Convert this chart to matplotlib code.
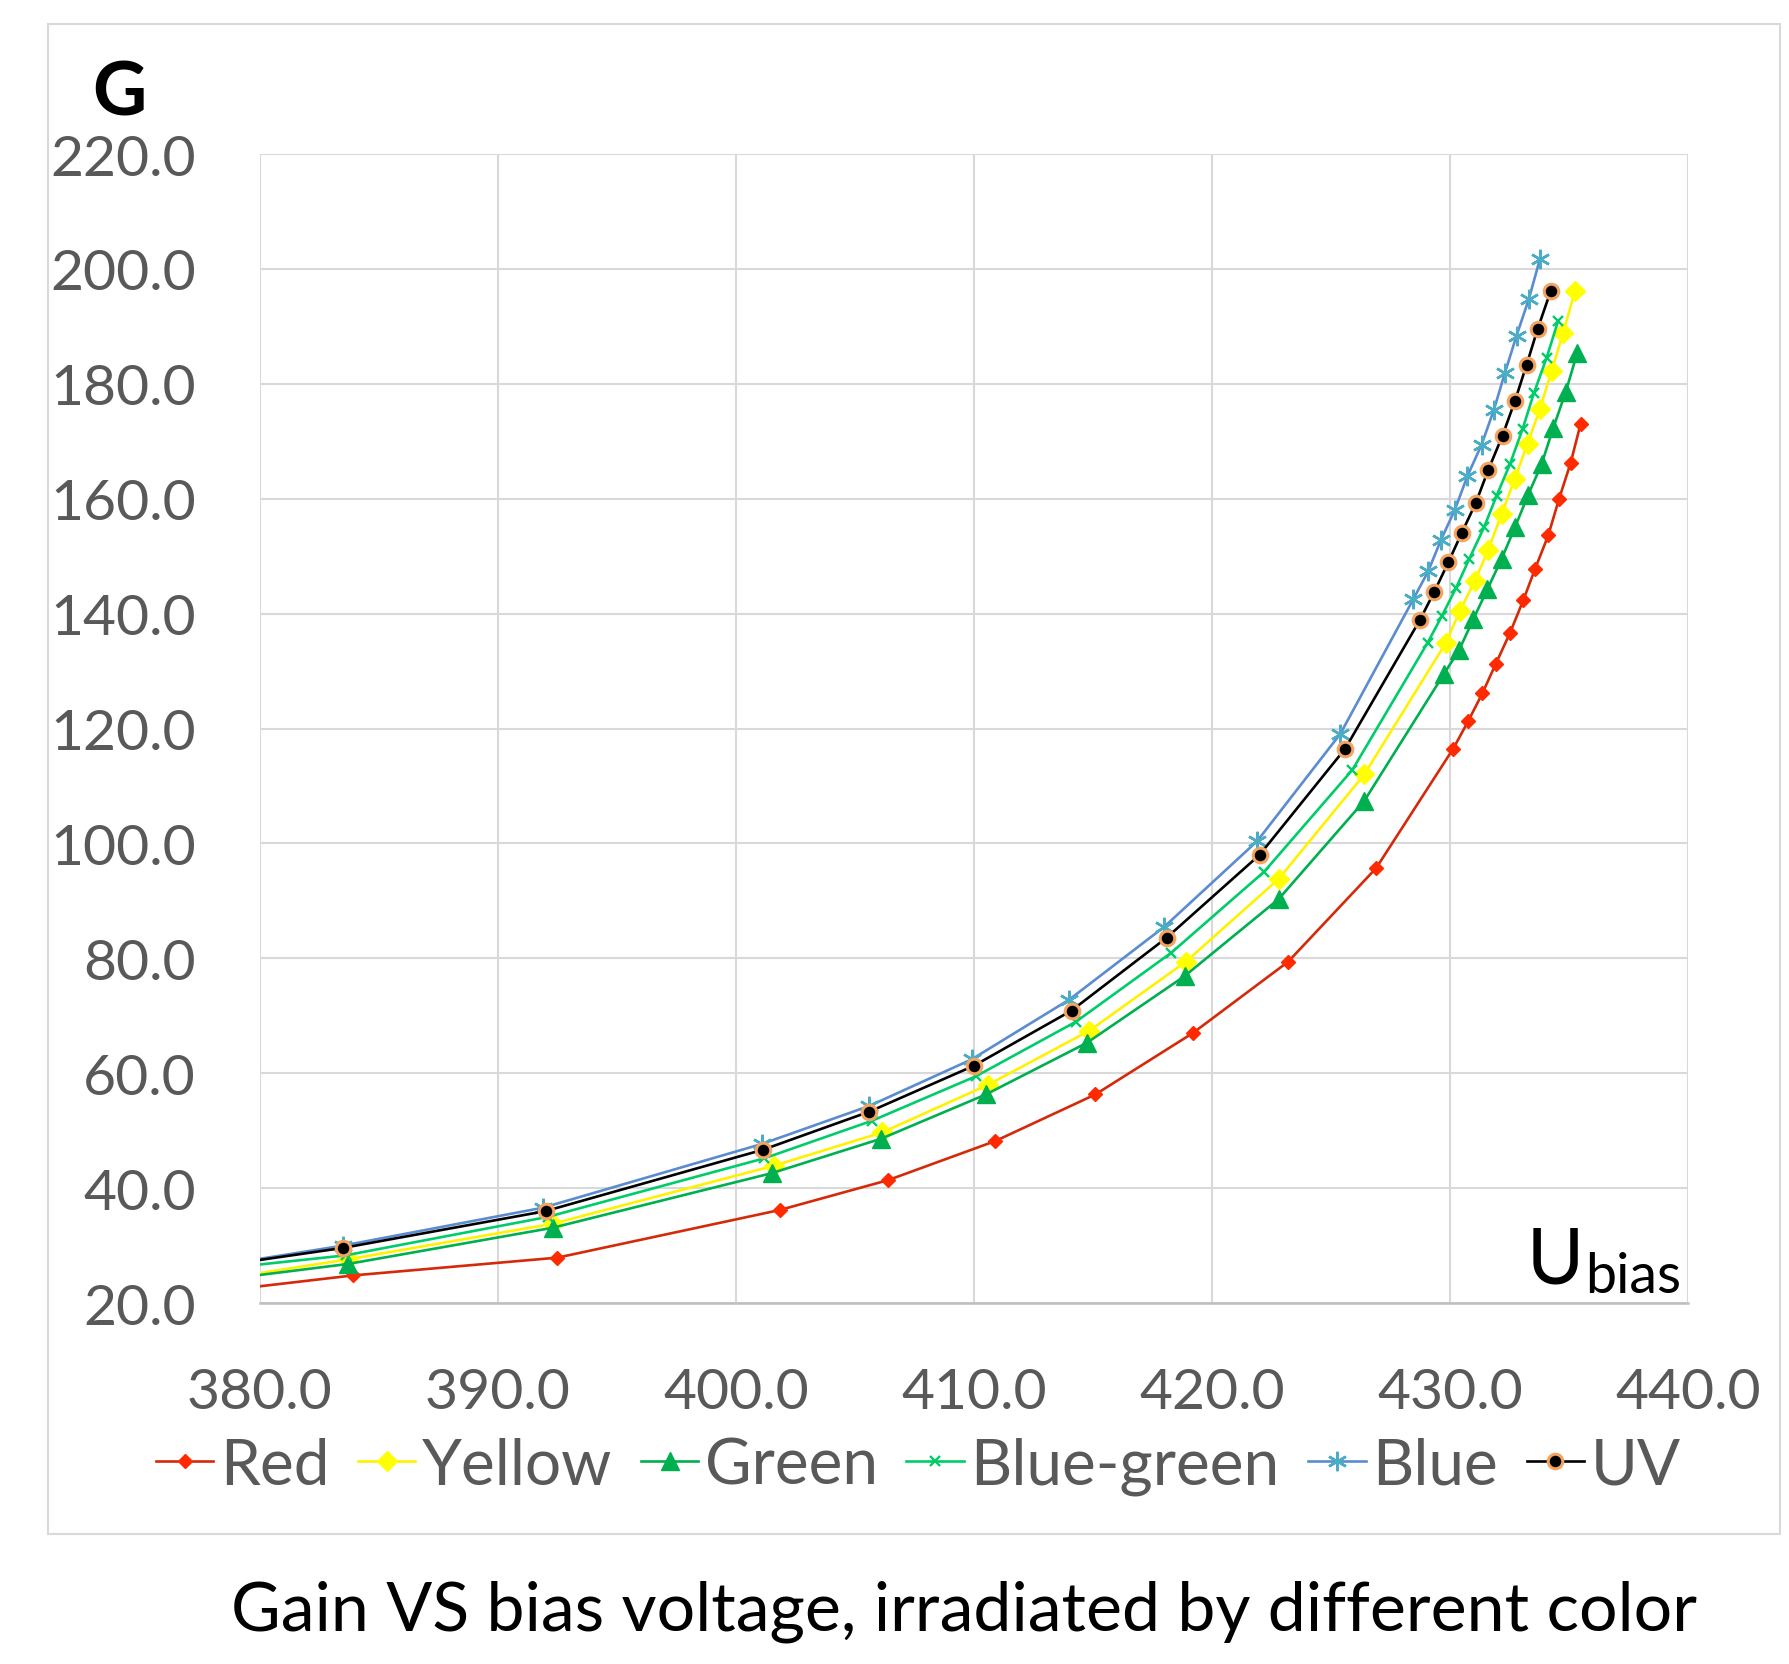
import matplotlib.pyplot as plt
import matplotlib.patches as patches
import numpy as np

plt.rcParams['font.family'] = ['Lato', 'DejaVu Sans']

# Bias voltage (first point lies left of the axis and is clipped)
x_red = [375.0, 383.9, 392.5, 401.85, 406.4, 410.9, 415.1, 419.2, 423.2, 426.9,
         430.14, 430.77, 431.36, 431.92, 432.52, 433.08, 433.57, 434.13, 434.58, 435.07, 435.49]
y_red = [20.5, 24.8, 27.9, 36.2, 41.4, 48.2, 56.3, 67.0, 79.4, 95.7,
         116.5, 121.3, 126.1, 131.2, 136.6, 142.3, 147.7, 153.6, 159.9, 166.2, 173.0]

x_yellow = [375.0, 383.7, 392.3, 401.6, 406.15, 410.6, 414.85, 418.9, 422.8, 426.4,
            429.83, 430.42, 431.05, 431.61, 432.17, 432.73, 433.26, 433.78, 434.27, 434.76, 435.25]
y_yellow = [22.0, 27.6, 33.8, 43.9, 49.7, 58.0, 67.4, 79.4, 93.8, 112.0,
            134.9, 140.5, 145.7, 151.1, 157.3, 163.5, 169.6, 175.6, 182.2, 188.9, 196.1]

x_green = [375.0, 383.7, 392.3, 401.5, 406.1, 410.5, 414.75, 418.85, 422.8, 426.4,
           429.75, 430.39, 430.98, 431.57, 432.17, 432.73, 433.29, 433.85, 434.34, 434.86, 435.35]
y_green = [22.3, 26.8, 33.1, 42.6, 48.6, 56.3, 65.3, 76.9, 90.3, 107.4,
           129.5, 133.7, 139.0, 144.2, 149.5, 155.0, 160.7, 166.0, 172.3, 178.5, 185.4]

x_bluegreen = [375.0, 383.6, 392.1, 401.2, 405.7, 410.1, 414.3, 418.3, 422.2, 425.9,
               429.06, 429.65, 430.25, 430.81, 431.43, 431.96, 432.52, 433.05, 433.53, 434.06, 434.55]
y_bluegreen = [24.5, 28.3, 35.0, 45.2, 51.7, 59.5, 69.0, 81.0, 95.1, 112.8,
               134.9, 139.5, 144.4, 149.5, 155.0, 160.5, 166.0, 172.1, 178.4, 184.5, 191.0]

x_blue = [375.0, 383.5, 391.9, 401.1, 405.6, 409.9, 414.0, 418.0, 421.9, 425.4,
          428.46, 429.09, 429.62, 430.21, 430.73, 431.33, 431.85, 432.31, 432.80, 433.32, 433.78]
y_blue = [24.4, 30.0, 36.6, 47.7, 54.3, 62.4, 72.8, 85.5, 100.4, 119.1,
          142.5, 147.4, 152.8, 158.1, 163.9, 169.4, 175.5, 181.9, 188.4, 194.8, 201.7]

x_uv = [375.0, 383.5, 392.0, 401.15, 405.6, 410.0, 414.1, 418.1, 422.0, 425.6,
        428.74, 429.33, 429.93, 430.49, 431.08, 431.61, 432.21, 432.73, 433.22, 433.69, 434.23]
y_uv = [24.5, 29.6, 36.0, 46.7, 53.3, 61.3, 70.9, 83.6, 98.0, 116.5,
        138.9, 143.7, 148.9, 154.0, 159.2, 165.0, 171.0, 177.0, 183.3, 189.6, 196.1]

x_ticks = [380.0, 390.0, 400.0, 410.0, 420.0, 430.0, 440.0]
y_ticks = [20.0, 40.0, 60.0, 80.0, 100.0, 120.0, 140.0, 160.0, 180.0, 200.0, 220.0]

fig = plt.figure(figsize=(17.89, 16.65), dpi=100)
ax = fig.add_axes([0.1453, 0.2168, 0.7982, 0.6901])

# outer chart frame
fig.patches.append(patches.Rectangle((48 / 1789, 1 - 1535 / 1665), 1732 / 1789, 1510 / 1665,
                                     transform=fig.transFigure, fill=False,
                                     edgecolor='#D9D9D9', linewidth=1.5))

lw = 1.9
ax.plot(x_red, y_red, color='#D42A0A', lw=lw, marker='D', ms=7.5,
        mfc='#FF2A00', mec='#FF2A00', label='Red')
ax.plot(x_yellow, y_yellow, color='#FFF200', lw=lw, marker='D', ms=10.5,
        mfc='#FFFF00', mec='#FFFF00', label='Yellow')
ax.plot(x_green, y_green, color='#00B050', lw=lw, marker='^', ms=13,
        mfc='#00B050', mec='#00B050', label='Green')
ax.plot(x_bluegreen, y_bluegreen, color='#00CC6A', lw=lw, marker='x', ms=7.5,
        mew=1.7, mec='#00CC6A', label='Blue-green')
ax.plot(x_blue, y_blue, color='#5B8BD0', lw=lw, marker=(6, 2, 0), ms=14,
        mew=1.8, mec='#4BACC6', label='Blue')
ax.plot(x_uv, y_uv, color='black', lw=lw, marker='o', ms=10.5,
        mfc='black', mec='#F4A460', mew=2.2, label='UV')

ax.set_xlim(380, 440)
ax.set_ylim(20, 220)
ax.set_xticks(x_ticks)
ax.set_yticks(y_ticks)
ax.set_xticklabels([f'{v:.1f}' for v in x_ticks])
ax.set_yticklabels([f'{v:.1f}' for v in y_ticks])
ax.tick_params(axis='both', length=0, labelsize=41, colors='#595959')
ax.tick_params(axis='x', pad=46)
ax.tick_params(axis='y', pad=46)
ax.grid(True, color='#D9D9D9', linewidth=1.5)
ax.set_axisbelow(True)
for s in ['top', 'right', 'left']:
    ax.spines[s].set_visible(False)
ax.spines['bottom'].set_color('#BFBFBF')
ax.spines['bottom'].set_linewidth(1.8)

fig.text(119 / 1789, 1 - 94 / 1665, 'G', fontsize=54, fontweight='bold',
         ha='center', va='center', color='black')
u = ax.text(0.887, 0.018, 'U', transform=ax.transAxes, fontsize=56,
            ha='left', va='baseline', color='black')
ax.annotate('bias', xy=(1.0, 0.0), xycoords=u, xytext=(1, -4),
            textcoords='offset points', fontsize=40, ha='left', va='bottom')

ax.legend(loc='upper center', bbox_to_anchor=(0.461, -0.094), ncol=6, frameon=False,
          fontsize=46, labelcolor='#595959', handlelength=0.9, handletextpad=0.1,
          columnspacing=0.45, borderaxespad=0)

fig.text(964 / 1789, 1 - 1612 / 1665, 'Gain VS bias voltage, irradiated by different color',
         fontsize=49, ha='center', va='center', color='black')

fig.savefig('out.png', dpi=100)
